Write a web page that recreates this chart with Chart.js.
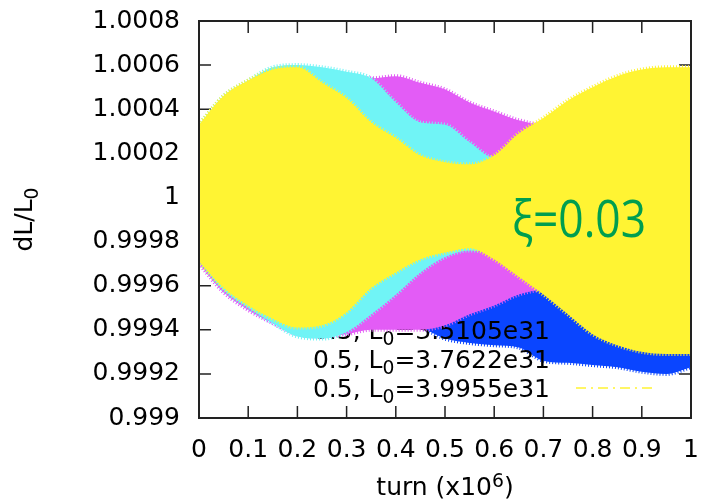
<!DOCTYPE html>
<html lang="en">
<head>
    <meta charset="UTF-8">
    <title>dL/L0 vs turn</title>
    <script src="https://cdn.jsdelivr.net/npm/chart.js"></script>
    <style>
        body { margin: 0; background: #fff; }
        #c { display: block; }
    </style>
</head>
<body>
    <canvas id="c" width="702" height="504"></canvas>

    <script>
        // turn (x10^6) sample positions of the band envelopes
        const XS = [0, 0.05, 0.1, 0.15, 0.2, 0.25, 0.3, 0.35, 0.4, 0.45, 0.5,
                    0.55, 0.6, 0.65, 0.7, 0.75, 0.8, 0.85, 0.9, 0.95, 1];

        // upper / lower edge of each scatter band
        const YELLOW_HI = [1.00033, 1.00046, 1.00053, 1.00058, 1.00059, 1.00052, 1.00045, 1.00034, 1.00027, 1.00019, 1.00016,
                           1.00015, 1.00019, 1.00029, 1.00036, 1.00044, 1.0005, 1.00055, 1.00058, 1.00059, 1.00059];
        const YELLOW_LO = [0.99971, 0.99959, 0.99951, 0.99945, 0.99941, 0.99942, 0.99948, 0.99959, 0.99966, 0.99972, 0.99975,
                           0.99977, 0.99972, 0.99964, 0.99956, 0.99947, 0.99938, 0.99933, 0.9993, 0.99929, 0.99929];
        const CYAN_HI   = [1.00033, 1.00046, 1.00053, 1.00059, 1.0006, 1.00059, 1.00057, 1.00054, 1.00043, 1.00034, 1.00033,
                           1.00025, 1.00018, 1.00027, 1.00034, 1.00041, 1.00047, 1.00051, 1.00054, 1.00055, 1.00055];
        const CYAN_LO   = [0.99971, 0.99958, 0.9995, 0.99943, 0.99937, 0.99936, 0.99939, 0.99947, 0.99956, 0.99966, 0.99973,
                           0.99976, 0.99974, 0.99966, 0.99958, 0.99949, 0.9994, 0.99935, 0.99932, 0.99931, 0.99931];
        const MAGENTA_HI = [1.0003, 1.00043, 1.0005, 1.00055, 1.00057, 1.00056, 1.00055, 1.00054, 1.00055, 1.00052, 1.00049,
                            1.00043, 1.00039, 1.00035, 1.00033, 1.0004, 1.00046, 1.0005, 1.00053, 1.00054, 1.00054];
        const MAGENTA_LO = [0.9997, 0.99957, 0.99949, 0.99943, 0.99938, 0.99937, 0.99938, 0.9994, 0.9994, 0.9994, 0.99942,
                            0.99947, 0.99951, 0.99956, 0.99958, 0.9995, 0.99941, 0.99936, 0.99933, 0.99932, 0.99932];
        const BLUE_HI   = [0.99976, 0.99964, 0.99956, 0.9995, 0.99946, 0.99945, 0.99946, 0.99948, 0.99948, 0.9995, 0.99946,
                           0.9995, 0.99956, 0.9996, 0.9996, 0.99952, 0.99945, 0.9994, 0.99937, 0.99936, 0.99936];
        const BLUE_LO   = [0.99972, 0.9996, 0.99952, 0.99946, 0.99941, 0.9994, 0.99941, 0.99943, 0.99943, 0.99941, 0.99936,
                           0.99934, 0.99933, 0.99932, 0.99926, 0.99925, 0.99924, 0.99923, 0.99921, 0.9992, 0.99923];

        const X_TICKS = [0, 0.1, 0.2, 0.3, 0.4, 0.5, 0.6, 0.7, 0.8, 0.9, 1];
        const Y_TICKS = [0.999, 0.9992, 0.9994, 0.9996, 0.9998, 1, 1.0002, 1.0004, 1.0006, 1.0008];

        // key rows (the first entry is hidden under the data in the original)
        const KEY_XI = ['0.5', '0.5', '0.5'];
        const KEY_L0 = ['3.5105e31', '3.7622e31', '3.9955e31'];

        const YELLOW = '#fff433';
        const CYAN = '#70f4f6';
        const MAGENTA = '#e35cf6';
        const BLUE = '#0a45ff';
        const FONT = '"DejaVu Sans", sans-serif';

        function band(ys) {
            return XS.map((x, i) => ({ x: x, y: ys[i] }));
        }

        // dotted wide border gives the edge a speckled look, like the dots in the original
        function pair(hi, lo, color) {
            const edge = { borderColor: color, borderWidth: 4, borderDash: [1, 2] };
            return [
                Object.assign({ data: band(hi), fill: '+1', backgroundColor: color }, edge),
                Object.assign({ data: band(lo), fill: false }, edge)
            ];
        }

        // index 0 is drawn last (on top), like the last gnuplot curve
        const datasets = [].concat(
            pair(YELLOW_HI, YELLOW_LO, YELLOW),
            pair(CYAN_HI, CYAN_LO, CYAN),
            pair(MAGENTA_HI, MAGENTA_LO, MAGENTA),
            pair(BLUE_HI, BLUE_LO, BLUE)
        );

        // key row drawn just before the matching curve (lower-edge dataset index)
        const keyBefore = { 5: 0, 3: 1, 1: 2 };

        // text with a subscript / superscript piece
        function richWidth(ctx, parts, size) {
            let w = 0;
            parts.forEach(p => {
                ctx.font = (p.s ? size * 0.75 : size) + 'px ' + FONT;
                w += ctx.measureText(p.t).width;
            });
            return w;
        }
        function richText(ctx, parts, x, y, size) {
            ctx.textAlign = 'left';
            ctx.textBaseline = 'alphabetic';
            parts.forEach(p => {
                const sz = p.s ? size * 0.75 : size;
                ctx.font = sz + 'px ' + FONT;
                const dy = p.s === 'sub' ? 6 : (p.s === 'sup' ? -8 : 0);
                ctx.fillText(p.t, x, y + dy);
                x += ctx.measureText(p.t).width;
            });
        }

        const gnuplotLook = {
            id: 'gnuplotLook',
            beforeDatasetsDraw(chart) {
                // inward ticks on all four sides
                const ctx = chart.ctx, a = chart.chartArea;
                const xs = chart.scales.x, ys = chart.scales.y;
                ctx.save();
                ctx.strokeStyle = '#222';
                ctx.lineWidth = 1.5;
                ctx.beginPath();
                xs.ticks.forEach(t => {
                    const p = xs.getPixelForValue(t.value);
                    ctx.moveTo(p, a.bottom); ctx.lineTo(p, a.bottom - 12);
                    ctx.moveTo(p, a.top); ctx.lineTo(p, a.top + 12);
                });
                ys.ticks.forEach(t => {
                    const p = ys.getPixelForValue(t.value);
                    ctx.moveTo(a.left, p); ctx.lineTo(a.left + 12, p);
                    ctx.moveTo(a.right, p); ctx.lineTo(a.right - 12, p);
                });
                ctx.stroke();
                ctx.restore();
            },
            beforeDatasetDraw(chart, args) {
                const row = keyBefore[args.index];
                if (row === undefined) return;
                const ctx = chart.ctx, a = chart.chartArea;
                const parts = [{ t: KEY_XI[row] + ', L' }, { t: '0', s: 'sub' }, { t: '=' + KEY_L0[row] }];
                const right = a.right - 141;
                const base = a.bottom - 79 + row * 29;
                ctx.save();
                ctx.fillStyle = '#000';
                richText(ctx, parts, right - richWidth(ctx, parts, 25), base, 25);
                if (row === 2) {
                    ctx.strokeStyle = chart.data.datasets[0].backgroundColor;
                    ctx.lineWidth = 1.5;
                    ctx.setLineDash([10, 5, 2, 5]);
                    ctx.beginPath();
                    ctx.moveTo(right + 26, base - 9);
                    ctx.lineTo(right + 103, base - 9);
                    ctx.stroke();
                }
                ctx.restore();
            },
            afterDatasetsDraw(chart) {
                const ctx = chart.ctx, a = chart.chartArea;
                ctx.save();
                ctx.strokeStyle = '#222';
                ctx.lineWidth = 2;
                ctx.strokeRect(a.left, a.top, a.right - a.left, a.bottom - a.top);

                // xi label, placed in data coordinates
                const px = chart.scales.x.getPixelForValue(0.636);
                const py = chart.scales.y.getPixelForValue(0.99982);
                ctx.translate(px, py);
                ctx.scale(0.87, 1);
                ctx.fillStyle = '#009e4f';
                ctx.font = '51px "Open Sans", sans-serif';
                ctx.textAlign = 'left';
                ctx.textBaseline = 'alphabetic';
                ctx.fillText('\u03be=0.03', 0, 0);
                ctx.restore();
            },
            afterDraw(chart) {
                const ctx = chart.ctx, a = chart.chartArea;
                ctx.save();
                ctx.fillStyle = '#000';
                // x title
                const xt = [{ t: 'turn (x10' }, { t: '6', s: 'sup' }, { t: ')' }];
                const cx = (a.left + a.right) / 2;
                richText(ctx, xt, cx - richWidth(ctx, xt, 25) / 2, 495, 25);
                // y title
                const yt = [{ t: 'dL/L' }, { t: '0', s: 'sub' }];
                ctx.translate(32, (a.top + a.bottom) / 2);
                ctx.rotate(-Math.PI / 2);
                richText(ctx, yt, -richWidth(ctx, yt, 25) / 2, 0, 25);
                ctx.restore();
            }
        };

        function noPad(s) {
            s.paddingLeft = 0; s.paddingRight = 0; s.paddingTop = 0; s.paddingBottom = 0;
        }

        const ctx = document.getElementById('c').getContext('2d');
        new Chart(ctx, {
            type: 'line',
            data: { datasets: datasets },
            options: {
                responsive: false,
                animation: false,
                layout: { autoPadding: false, padding: { top: 21, right: 11, left: 0, bottom: 0 } },
                elements: { point: { radius: 0 }, line: { cubicInterpolationMode: 'monotone' } },
                plugins: { legend: { display: false }, tooltip: { enabled: false } },
                scales: {
                    x: {
                        type: 'linear',
                        min: 0,
                        max: 1,
                        afterBuildTicks: s => { s.ticks = X_TICKS.map(v => ({ value: v })); },
                        afterFit: s => { s.height = 86; noPad(s); },
                        grid: { display: false, drawTicks: false },
                        border: { display: false },
                        ticks: {
                            color: '#000',
                            font: { family: FONT, size: 25 },
                            padding: 17,
                            maxRotation: 0,
                            autoSkip: false,
                            callback: v => String(parseFloat(v.toFixed(1)))
                        }
                    },
                    y: {
                        min: 0.999,
                        max: 1.0008,
                        afterBuildTicks: s => { s.ticks = Y_TICKS.map(v => ({ value: v })); },
                        afterFit: s => { s.width = 199; noPad(s); },
                        grid: { display: false, drawTicks: false },
                        border: { display: false },
                        ticks: {
                            color: '#000',
                            font: { family: FONT, size: 25 },
                            padding: 19,
                            autoSkip: false,
                            callback: v => String(parseFloat(v.toFixed(4)))
                        }
                    }
                }
            },
            plugins: [gnuplotLook]
        });
    </script>
</body>
</html>
